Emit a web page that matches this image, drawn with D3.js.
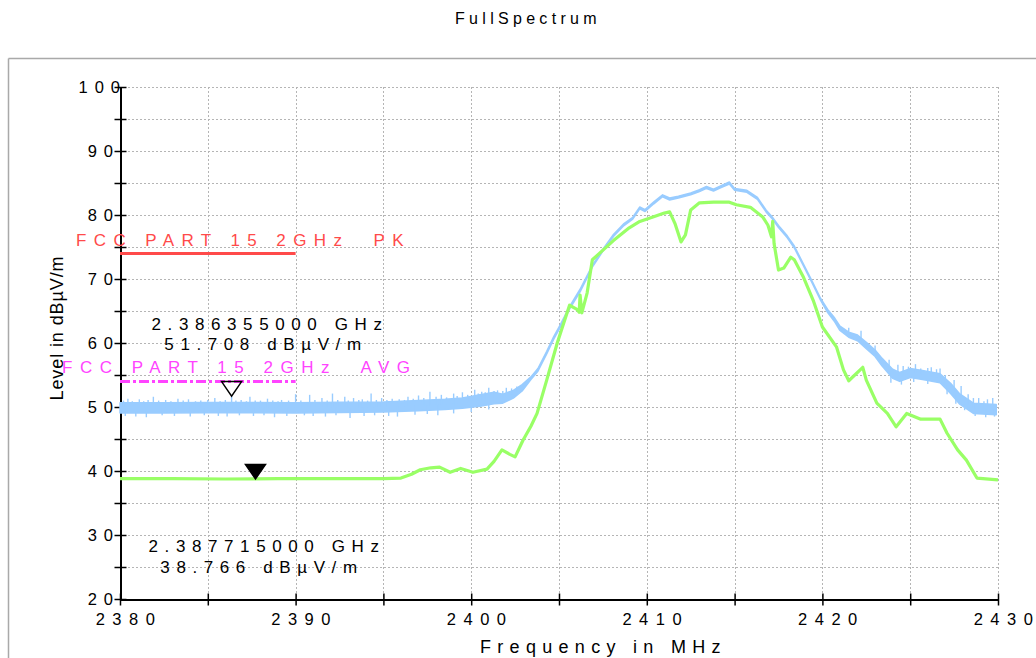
<!DOCTYPE html>
<html>
<head>
<meta charset="utf-8">
<script src="https://cdn.jsdelivr.net/npm/d3@7"></script>
<style>
  html, body { margin: 0; padding: 0; background: #fff; }
  svg { display: block; }
  text { font-family: "Liberation Sans", Arial, sans-serif; white-space: pre; }
</style>
</head>
<body>
<svg id="chart" width="1036" height="658"></svg>
<script>
// ---------------- data ----------------
const chartTitle = "FullSpectrum";
const xLabel = "Frequency in MHz";
const yLabel = "Level in dBµV/m";
const xTicks = [2380, 2390, 2400, 2410, 2420, 2430];
const yTicks = [20, 30, 40, 50, 60, 70, 80, 90, 100];

// Peak trace (light blue): envelope of the noisy trace
const blueFreq = [2380.0, 2382.5, 2385.0, 2387.5, 2390.0, 2392.5, 2395.0, 2397.0, 2398.5, 2399.5,
  2400.5, 2401.3, 2401.8, 2402.4, 2402.9, 2403.4, 2403.8, 2404.3, 2404.7, 2405.1,
  2405.6, 2406.2, 2406.9, 2407.5, 2408.1, 2408.7, 2409.2, 2409.6, 2409.9, 2410.4,
  2410.9, 2411.3, 2411.8, 2412.5, 2413.0, 2413.4, 2413.8, 2414.2, 2414.7, 2415.0,
  2415.7, 2416.3, 2416.8, 2417.1, 2417.5, 2418.0, 2418.4, 2418.9, 2419.4, 2419.9,
  2420.3, 2420.7, 2421.0, 2421.5, 2422.0, 2422.5, 2423.0, 2423.4, 2424.0, 2424.4,
  2425.0, 2425.7, 2426.7, 2427.3, 2427.8, 2428.6, 2429.9];
const blueLow = [49.05, 49.05, 49.1, 49.1, 49.05, 49.15, 49.2, 49.4, 49.6, 49.8,
  50.1, 50.5, 50.6, 51.4, 52.5, 54.3, 55.6, 58.3, 60.6, 62.6,
  65.3, 68.0, 71.85, 74.35, 76.65, 78.35, 79.35, 80.95, 80.55, 81.75,
  82.85, 82.35, 82.65, 83.15, 83.65, 84.15, 83.75, 84.25, 84.85, 83.85,
  83.55, 82.45, 80.45, 79.55, 78.05, 76.45, 74.85, 72.15, 69.45, 66.65,
  64.75, 63.3, 61.95, 60.9, 60.35, 59.1, 57.9, 56.4, 54.5, 54.0,
  54.6, 54.3, 53.8, 52.1, 50.5, 49.0, 48.8];
const blueHigh = [50.65, 50.65, 50.7, 50.7, 50.65, 50.75, 50.8, 51.0, 51.2, 51.4,
  51.9, 52.3, 52.0, 52.6, 53.5, 54.7, 56.0, 58.7, 61.0, 63.0,
  65.7, 68.4, 72.15, 74.65, 76.95, 78.65, 79.65, 81.25, 80.85, 82.05,
  83.15, 82.65, 82.95, 83.45, 83.95, 84.45, 84.05, 84.55, 85.15, 84.15,
  83.85, 82.75, 80.75, 79.85, 78.35, 76.75, 75.15, 72.45, 69.75, 66.95,
  65.25, 63.9, 62.65, 61.7, 61.25, 60.1, 58.9, 57.6, 55.9, 55.4,
  56.0, 55.7, 55.2, 53.7, 52.1, 50.6, 50.4];
// Noise spikes of the peak trace (frequency MHz, level dBµV/m)
const blueSpikeFreq = [
  2380.2, 2380.45, 2380.7, 2381.1, 2381.35, 2381.6, 2381.9, 2382.2, 2382.6, 2382.9,
  2383.3, 2383.6, 2383.9, 2384.3, 2384.6, 2385.0, 2385.4, 2385.7, 2386.0, 2386.355,
  2386.6, 2386.9, 2387.2, 2387.4, 2387.7, 2388.0, 2388.4, 2388.7, 2389.0, 2389.2,
  2389.6, 2390.0, 2390.3, 2390.8, 2391.1, 2391.5, 2391.8, 2392.1, 2392.4, 2392.8,
  2393.0, 2393.3, 2393.6, 2393.8, 2394.1, 2394.3, 2394.6, 2394.9, 2395.2, 2395.5,
  2395.9, 2396.2, 2396.4, 2396.7, 2397.0, 2397.3, 2397.65, 2398.0, 2398.3, 2398.6,
  2399.0, 2399.2, 2399.5, 2399.8, 2400.2, 2400.4, 2400.6, 2400.8, 2401.0, 2401.3,
  2401.5, 2401.8, 2402.0, 2402.3, 2402.6,
  2380.3, 2380.9, 2381.5, 2382.4, 2383.1, 2384.0, 2384.8, 2385.6, 2386.1, 2386.8,
  2387.6, 2388.2, 2388.8, 2389.5, 2390.5, 2391.0, 2391.7, 2392.3, 2393.1, 2393.9,
  2394.5, 2395.3, 2395.8, 2396.8, 2397.5, 2398.1, 2399.0, 2400.0, 2401.0,
  2421.5, 2422.2, 2423.0, 2423.8, 2424.3, 2424.6, 2424.9, 2425.3, 2425.6, 2426.0,
  2426.2, 2426.5, 2426.7, 2427.0, 2427.5, 2427.9, 2428.3, 2428.6, 2428.9, 2429.2,
  2429.4, 2429.7,
  2423.9, 2424.5, 2425.2, 2426.0, 2427.1, 2427.6, 2428.1, 2428.7, 2429.3, 2429.8];
const blueSpikeLevel = [
  51.0, 51.3, 50.9, 51.2, 50.9, 51.1, 51.6, 51.0, 51.1, 50.9,
  51.3, 51.0, 51.2, 50.9, 51.0, 51.1, 51.4, 50.9, 51.1, 51.708,
  51.0, 51.1, 50.9, 51.6, 51.0, 51.0, 51.3, 51.0, 50.9, 51.1,
  51.0, 52.0, 51.0, 51.9, 51.1, 51.4, 51.0, 52.1, 51.1, 51.6,
  51.0, 51.4, 51.1, 51.2, 51.0, 52.1, 51.1, 51.4, 51.1, 51.3,
  51.2, 51.1, 51.6, 51.3, 51.8, 51.4, 52.4, 51.6, 51.9, 51.5,
  52.1, 51.7, 52.3, 51.9, 52.7, 52.1, 52.4, 52.3, 53.0, 52.5,
  52.6, 52.5, 53.0, 52.9, 53.2,
  48.6, 48.5, 48.4, 48.7, 48.6, 48.5, 48.7, 48.6, 48.5, 48.7,
  48.6, 48.7, 48.4, 48.6, 48.7, 48.6, 48.5, 48.7, 48.3, 48.6,
  48.7, 48.6, 48.5, 48.8, 48.9, 48.7, 49.0, 49.2, 49.6,
  62.4, 61.9, 59.6, 57.4, 56.6, 56.4, 56.3, 56.7, 56.0, 56.1,
  56.2, 55.9, 56.0, 55.0, 54.2, 53.3, 52.0, 51.4, 51.4, 50.9,
  51.2, 51.4,
  53.8, 53.5, 53.9, 53.6, 52.0, 50.5, 49.5, 48.6, 48.4, 48.5];

// Average trace (green)
const greenFreq = [2380.0, 2383.0, 2386.0, 2389.0, 2392.0, 2395.0, 2396.0, 2396.6, 2397.1, 2397.7,
  2398.2, 2398.8, 2399.4, 2400.1, 2400.9, 2401.3, 2401.75, 2402.2, 2402.5, 2402.95,
  2403.4, 2403.75, 2404.3, 2404.9, 2405.6, 2406.0, 2406.15, 2406.2, 2406.3, 2406.6,
  2406.9, 2407.3, 2408.1, 2409.0, 2409.6, 2410.35, 2411.0, 2411.3, 2411.6, 2411.95,
  2412.2, 2412.5, 2413.0, 2413.8, 2414.7, 2415.1, 2415.9, 2416.6, 2416.9, 2417.1,
  2417.17, 2417.25, 2417.5, 2417.8, 2418.2, 2418.4, 2418.9, 2419.5, 2420.0, 2420.8,
  2421.2, 2421.5, 2422.3, 2422.5, 2423.1, 2423.7, 2424.2, 2424.8, 2425.6, 2426.7,
  2427.1, 2427.7, 2428.2, 2428.8, 2430.0];
const greenLevel = [38.8, 38.8, 38.75, 38.8, 38.8, 38.8, 38.9, 39.5, 40.2, 40.5,
  40.6, 39.8, 40.4, 39.8, 40.3, 41.5, 43.3, 42.6, 42.2, 44.8,
  47.0, 49.0, 54.2, 60.0, 65.9, 65.3, 64.8, 67.5, 64.7, 67.8,
  73.0, 74.0, 76.0, 78.0, 79.0, 79.7, 80.3, 80.5, 78.7, 75.8,
  76.9, 80.8, 81.9, 82.0, 82.0, 81.6, 81.2, 79.7, 78.4, 76.6,
  79.0, 75.5, 71.4, 71.7, 73.4, 73.0, 70.4, 66.5, 62.5, 59.4,
  55.8, 54.1, 56.2, 54.2, 50.6, 49.0, 46.9, 49.0, 48.1, 48.1,
  45.9, 43.3, 41.7, 38.9, 38.6];

// Limit lines
const limitNames = ["FCC PART 15 2GHz  PK", "FCC PART 15 2GHz  AVG"];
const limitLevels = [74, 54];
const limitStart = 2380, limitEnd = 2390;

// Markers
const markerFreq = [2386.355, 2387.715];
const markerLevel = [51.708, 38.766];
const markerFreqText = ["2.386355000 GHz", "2.387715000 GHz"];
const markerLevelText = ["51.708 dBµV/m", "38.766 dBµV/m"];

// ---------------- drawing ----------------
const svg = d3.select("#chart");
const x = d3.scaleLinear().domain([2380, 2430]).range([120, 998]);
const y = d3.scaleLinear().domain([20, 100]).range([599, 87]);

// outer frame
svg.append("line").attr("x1", 8.5).attr("x2", 1036).attr("y1", 58.5).attr("y2", 58.5)
  .attr("stroke", "#a9a9a9").attr("stroke-width", 1.5);
svg.append("line").attr("x1", 8.5).attr("x2", 8.5).attr("y1", 58.5).attr("y2", 658)
  .attr("stroke", "#a9a9a9").attr("stroke-width", 1.5);

// title
svg.append("text").attr("x", 455).attr("y", 24).attr("font-size", 16)
  .style("letter-spacing", "4.3px").attr("fill", "#000").text(chartTitle);

// grid
const gx = d3.range(2385, 2431, 5);
const gy = d3.range(25, 101, 5);
const grid = svg.append("g").attr("stroke", "#b5b5b5").attr("stroke-width", 1)
  .attr("stroke-dasharray", "2,2");
grid.selectAll("line.v").data(gx).join("line").attr("class", "v")
  .attr("x1", d => Math.round(x(d)) + 0.5).attr("x2", d => Math.round(x(d)) + 0.5)
  .attr("y1", y(100)).attr("y2", y(20));
grid.selectAll("line.h").data(gy).join("line").attr("class", "h")
  .attr("x1", x(2380)).attr("x2", x(2430))
  .attr("y1", d => Math.round(y(d)) + 0.5).attr("y2", d => Math.round(y(d)) + 0.5);

// axes
const yAxis = d3.axisLeft(y).tickValues(d3.range(20, 101, 5)).tickSize(0).tickFormat("");
const ya = svg.append("g").attr("transform", "translate(120.5,0)").call(yAxis);
ya.select(".domain").attr("stroke", "#000").attr("stroke-width", 2);
ya.selectAll(".tick").append("line").attr("x1", -6).attr("x2", 6)
  .attr("stroke", "#000").attr("stroke-width", 1.5);

const xAxis = d3.axisBottom(x).tickValues(d3.range(2380, 2431, 5)).tickSize(0).tickFormat("");
const xa = svg.append("g").attr("transform", "translate(0,599.5)").call(xAxis);
xa.select(".domain").attr("stroke", "#000").attr("stroke-width", 2);
xa.selectAll(".tick").append("line").attr("y1", -6).attr("y2", 6)
  .attr("stroke", "#000").attr("stroke-width", 1.5);

// tick labels
svg.append("g").selectAll("text").data(yTicks).join("text")
  .attr("x", d => d === 100 ? 127 : 120)
  .attr("y", d => y(d) + 5.5)
  .attr("text-anchor", "end").attr("font-size", 16.5)
  .style("letter-spacing", "7px").text(d => d);
svg.append("g").selectAll("text").data(xTicks).join("text")
  .attr("x", d => x(d) + 9)
  .attr("y", 625)
  .attr("text-anchor", "middle").attr("font-size", 16.5)
  .style("letter-spacing", "7.5px").text(d => d);

// axis titles
svg.append("text").attr("transform", "translate(63,328) rotate(-90)")
  .attr("text-anchor", "middle").attr("font-size", 18)
  .style("letter-spacing", "0.9px").text(yLabel);
svg.append("text").attr("x", 480).attr("y", 653).attr("font-size", 18)
  .style("letter-spacing", "6.3px").text(xLabel);

// limit lines
svg.append("line").attr("x1", x(limitStart)).attr("x2", x(limitEnd))
  .attr("y1", y(limitLevels[0])).attr("y2", y(limitLevels[0]))
  .attr("stroke", "#ff4a4a").attr("stroke-width", 3);
svg.append("line").attr("x1", x(limitStart)).attr("x2", x(limitEnd))
  .attr("y1", y(limitLevels[1])).attr("y2", y(limitLevels[1]))
  .attr("stroke", "#ff44ff").attr("stroke-width", 3).attr("stroke-dasharray", "10,3,3,3");

// blue (peak) trace
const bandData = blueFreq.map((f, i) => ({ f, lo: blueLow[i], hi: blueHigh[i] }));
const area = d3.area().x(d => x(d.f)).y0(d => y(d.lo)).y1(d => y(d.hi));
svg.append("path").datum(bandData).attr("d", area)
  .attr("fill", "#99ccff").attr("stroke", "#99ccff").attr("stroke-width", 1.5)
  .attr("stroke-linejoin", "round");
const midAt = f => {
  const i = d3.bisector(d => d.f).right(bandData, f);
  const a = bandData[Math.max(0, i - 1)], b = bandData[Math.min(bandData.length - 1, i)];
  const t = b.f === a.f ? 0 : (f - a.f) / (b.f - a.f);
  return ((a.lo + a.hi) / 2) * (1 - t) + ((b.lo + b.hi) / 2) * t;
};
svg.append("g").selectAll("line").data(blueSpikeFreq).join("line")
  .attr("x1", d => x(d)).attr("x2", d => x(d))
  .attr("y1", d => y(midAt(d)))
  .attr("y2", (d, i) => y(blueSpikeLevel[i]))
  .attr("stroke", "#99ccff").attr("stroke-width", 1.4);

// green (average) trace
const line = d3.line().x(d => x(d[0])).y(d => y(d[1]));
svg.append("path").datum(greenFreq.map((f, i) => [f, greenLevel[i]])).attr("d", line)
  .attr("fill", "none").attr("stroke", "#99ff66").attr("stroke-width", 3.2)
  .attr("stroke-linejoin", "round");

// limit labels
svg.append("text").attr("x", 76).attr("y", 246).attr("font-size", 17)
  .attr("fill", "#ff4a4a").style("letter-spacing", "7.4px").text(limitNames[0]);
svg.append("text").attr("x", 62).attr("y", 373).attr("font-size", 17)
  .attr("fill", "#ff44ff").style("letter-spacing", "7.5px").text(limitNames[1]);

// markers
const tri = (cx, cy) => `M${cx - 10},${cy - 14.5}L${cx + 10},${cy - 14.5}L${cx},${cy}Z`;
svg.append("path").attr("d", tri(x(markerFreq[0]), y(markerLevel[0])))
  .attr("fill", "none").attr("stroke", "#000").attr("stroke-width", 1.5);
svg.append("path").attr("d", tri(x(markerFreq[1]), y(markerLevel[1])))
  .attr("fill", "#000").attr("stroke", "#000").attr("stroke-width", 1.5);

// marker texts
const mt = svg.append("g").attr("font-size", 17).attr("text-anchor", "middle")
  .style("letter-spacing", "6.6px");
mt.append("text").attr("x", 270).attr("y", 330).text(markerFreqText[0]);
mt.append("text").attr("x", 266).attr("y", 350).text(markerLevelText[0]);
mt.append("text").attr("x", 267).attr("y", 552).text(markerFreqText[1]);
mt.append("text").attr("x", 262).attr("y", 573).text(markerLevelText[1]);
</script>
</body>
</html>
